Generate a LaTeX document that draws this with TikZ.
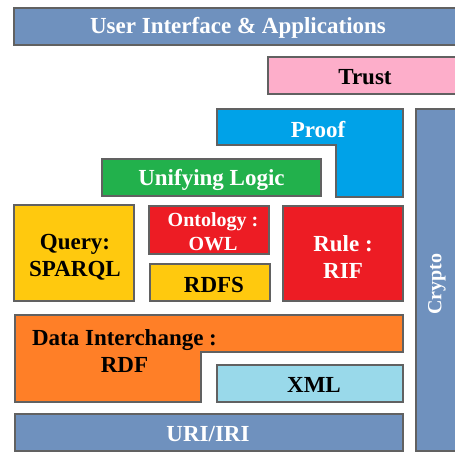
\documentclass[tikz,border=0pt]{standalone}
\usepackage{fontspec}
\setmainfont{Liberation Serif}
\begin{document}
\begin{tikzpicture}[x=1pt,y=-1pt,
  layer/.style={draw=black!62,line width=1.4pt},
  lbl/.style={font=\bfseries\fontsize{23}{27}\selectfont,align=center,inner sep=0pt},
  lblsm/.style={font=\bfseries\fontsize{20}{24}\selectfont,align=center,inner sep=0pt}]
\definecolor{steel}{HTML}{6F91BE}
\definecolor{pinkish}{HTML}{FDAECA}
\definecolor{skyblue}{HTML}{00A2E8}
\definecolor{grass}{HTML}{22B14C}
\definecolor{amber}{HTML}{FFC90E}
\definecolor{scarlet}{HTML}{ED1C24}
\definecolor{tangerine}{HTML}{FF7F27}
\definecolor{paleblue}{HTML}{99D9EA}
\useasboundingbox (0,0) rectangle (455,452);
\clip (0,0) rectangle (455,452);
% top bar
\draw[layer,fill=steel] (14,8) rectangle (464,45);
\node[lbl,text=white] (ui) at (238,28) {User Interface \& Applications};
% trust
\draw[layer,fill=pinkish] (268,57) rectangle (464,94);
\node[lbl] (trust) at (365,77) {Trust};
% proof (L-shaped)
\draw[layer,fill=skyblue] (217,109) -- (403,109) -- (403,197) -- (336,197) -- (336,145) -- (217,145) -- cycle;
\node[lbl,text=white] (proof) at (318,130) {Proof};
% crypto column
\draw[layer,fill=steel] (416,109) rectangle (462,451);
\node[lblsm,text=white,rotate=90] (crypto) at (437,284) {Crypto};
% unifying logic
\draw[layer,fill=grass] (102,159) rectangle (321,196);
\node[lbl,text=white] (logic) at (211.5,180) {Unifying Logic};
% query
\draw[layer,fill=amber] (14,205) rectangle (134,301);
\node[lbl] (query) at (75,257) {Query:\\SPARQL};
% ontology
\draw[layer,fill=scarlet] (149,206) rectangle (269,254);
\node[lblsm,text=white] (owl) at (213,232) {Ontology :\\OWL};
% rdfs
\draw[layer,fill=amber] (150,264) rectangle (270,301);
\node[lbl] (rdfs) at (214,285) {RDFS};
% rule
\draw[layer,fill=scarlet] (283,206) rectangle (403,301);
\node[lbl,text=white] (rif) at (343,257) {Rule :\\RIF};
% data interchange (L-shaped)
\draw[layer,fill=tangerine] (15,315) -- (403,315) -- (403,352) -- (201,352) -- (201,402) -- (15,402) -- cycle;
\node[lbl] (rdf) at (124.5,351) {Data Interchange :\\RDF};
% xml
\draw[layer,fill=paleblue] (217,365) rectangle (403,402);
\node[lbl] (xml) at (314,385) {XML};
% uri
\draw[layer,fill=steel] (15,414) rectangle (403,451);
\node[lbl,text=white] (uri) at (208,434) {URI/IRI};
\end{tikzpicture}
\end{document}
